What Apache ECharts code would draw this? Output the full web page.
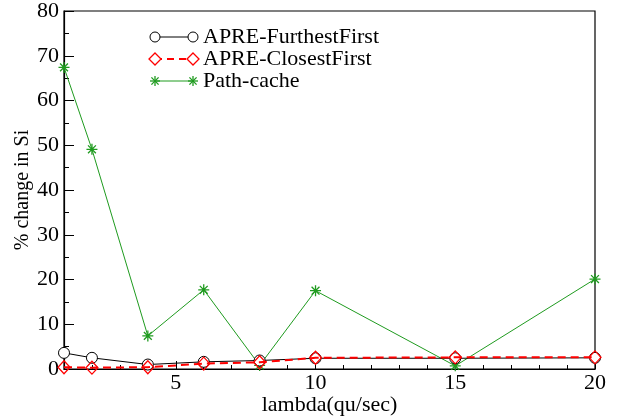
<!DOCTYPE html>
<html>
<head>
<meta charset="utf-8">
<script src="https://cdn.jsdelivr.net/npm/echarts@6/dist/echarts.min.js"></script>
<style>html,body{margin:0;padding:0;background:#fff}#c{width:618px;height:420px}</style>
</head>
<body>
<div id="c"></div>
<script>
const lambdas = [1, 2, 4, 6, 8, 10, 15, 20];
const furthestFirst = [3.6, 2.5, 1.0, 1.6, 1.9, 2.4, 2.4, 2.5];
const closestFirst = [0.4, 0.3, 0.4, 1.2, 1.5, 2.5, 2.6, 2.6];
const pathCache = [67.4, 49.1, 7.4, 17.7, 0.8, 17.5, 0.7, 20.1];
const seriesNames = ['APRE-FurthestFirst', 'APRE-ClosestFirst', 'Path-cache'];
const xMajorTicks = [5, 10, 15, 20];

const FONT = 'Liberation Serif';
const GREEN = '#1f9b1f';
const starPath = 'path://M0,-6L0,6M-6,0L6,0M-4.3,-4.3L4.3,4.3M-4.3,4.3L4.3,-4.3';

function pairs(ys) { return lambdas.map((x, i) => [x, ys[i]]); }

const chart = echarts.init(document.getElementById('c'), null, {renderer: 'canvas'});

// legend icon drawings (line with symbol at both ends)
const rowY0 = 37, rowH = 22, x1 = 155, x2 = 193;
const legendGraphics = [];
const styles = [
  {stroke: '#000', dash: null, lw: 1},
  {stroke: '#ff0000', dash: [7, 5], lw: 2},
  {stroke: GREEN, dash: null, lw: 1}
];
styles.forEach((s, i) => {
  const y = rowY0 + i * rowH;
  legendGraphics.push({type: 'line', shape: {x1: x1, y1: y, x2: x2, y2: y},
    style: {stroke: s.stroke, lineWidth: s.lw, lineDash: s.dash}, z: 100});
  [x1, x2].forEach(cx => {
    if (i === 0) {
      legendGraphics.push({type: 'circle', shape: {cx: cx, cy: y, r: 5},
        style: {fill: '#fff', stroke: '#000', lineWidth: 1}, z: 101});
    } else if (i === 1) {
      legendGraphics.push({type: 'polygon', shape: {points: [[cx, y - 6], [cx + 6, y], [cx, y + 6], [cx - 6, y]]},
        style: {fill: '#fff', stroke: '#ff0000', lineWidth: 1.3}, z: 101});
    } else {
      const segs = [[0, -5, 0, 5], [-5, 0, 5, 0], [-3.6, -3.6, 3.6, 3.6], [-3.6, 3.6, 3.6, -3.6]];
      segs.forEach(sg => {
        legendGraphics.push({type: 'line', shape: {x1: cx + sg[0], y1: y + sg[1], x2: cx + sg[2], y2: y + sg[3]},
          style: {stroke: GREEN, lineWidth: 1.3}, z: 101});
      });
    }
  });
});

const option = {
  animation: false,
  backgroundColor: '#fff',
  grid: {left: 64, right: 23, top: 11, bottom: 51, containLabel: false, outerBoundsMode: 'none',
    show: true, borderColor: '#000', borderWidth: 1.2, backgroundColor: 'transparent'},
  legend: {
    orient: 'vertical', left: 150, top: rowY0 - 11, padding: 0, itemWidth: 48, itemHeight: 22, itemGap: 0,
    icon: 'rect', itemStyle: {color: 'rgba(0,0,0,0)', borderWidth: 0, opacity: 0}, lineStyle: {opacity: 0},
    textStyle: {fontFamily: FONT, fontSize: 22, lineHeight: 22, color: '#000'},
    selectedMode: false,
    data: seriesNames
  },
  graphic: legendGraphics,
  xAxis: [{
    type: 'value', min: 1, max: 20, interval: 1,
    name: 'lambda(qu/sec)', nameLocation: 'middle', nameGap: 25, nameMoveOverlap: false,
    nameTextStyle: {fontFamily: FONT, fontSize: 22, color: '#000'},
    axisLine: {show: true, lineStyle: {color: '#000', width: 1.2}},
    axisTick: {show: true, inside: true, length: 4, lineStyle: {color: '#000'}},
    axisLabel: {fontFamily: FONT, fontSize: 22, color: '#000', margin: 3,
      formatter: v => (xMajorTicks.indexOf(v) >= 0 ? String(v) : '')},
    splitLine: {show: false}
  }, {
    type: 'value', min: 1, max: 20, position: 'bottom',
    axisLine: {show: false},
    axisTick: {show: true, inside: true, length: 8, customValues: xMajorTicks, lineStyle: {color: '#000'}},
    axisLabel: {show: false},
    splitLine: {show: false}
  }],
  yAxis: {
    type: 'value', min: 0, max: 80, interval: 10,
    name: '% change in Si', nameLocation: 'middle', nameGap: 31, nameRotate: 90, nameMoveOverlap: false,
    nameTextStyle: {fontFamily: FONT, fontSize: 20, color: '#000'},
    axisLine: {show: true, lineStyle: {color: '#000', width: 1.2}},
    axisTick: {show: true, inside: true, length: 10, lineStyle: {color: '#000'}},
    minorTick: {show: true, splitNumber: 2, length: 5, lineStyle: {color: '#000'}},
    axisLabel: {fontFamily: FONT, fontSize: 22, color: '#000', margin: 5},
    splitLine: {show: false}
  },
  series: [
    {
      name: seriesNames[0], type: 'line', data: pairs(furthestFirst), z: 3,
      symbol: 'circle', symbolSize: 11,
      itemStyle: {color: '#fff', borderColor: '#000', borderWidth: 1},
      lineStyle: {color: '#000', width: 1}
    },
    {
      name: seriesNames[1], type: 'line', data: pairs(closestFirst), z: 4,
      symbol: 'diamond', symbolSize: [12, 13],
      itemStyle: {color: 'rgba(255,255,255,0)', borderColor: '#ff0000', borderWidth: 1.3},
      lineStyle: {color: '#ff0000', width: 2, type: [8, 5]}
    },
    {
      name: seriesNames[2], type: 'line', data: pairs(pathCache), z: 2,
      symbol: starPath, symbolSize: 11,
      itemStyle: {color: GREEN, borderColor: GREEN, borderWidth: 1.3},
      lineStyle: {color: GREEN, width: 1}
    }
  ]
};
chart.setOption(option);
</script>
</body>
</html>
